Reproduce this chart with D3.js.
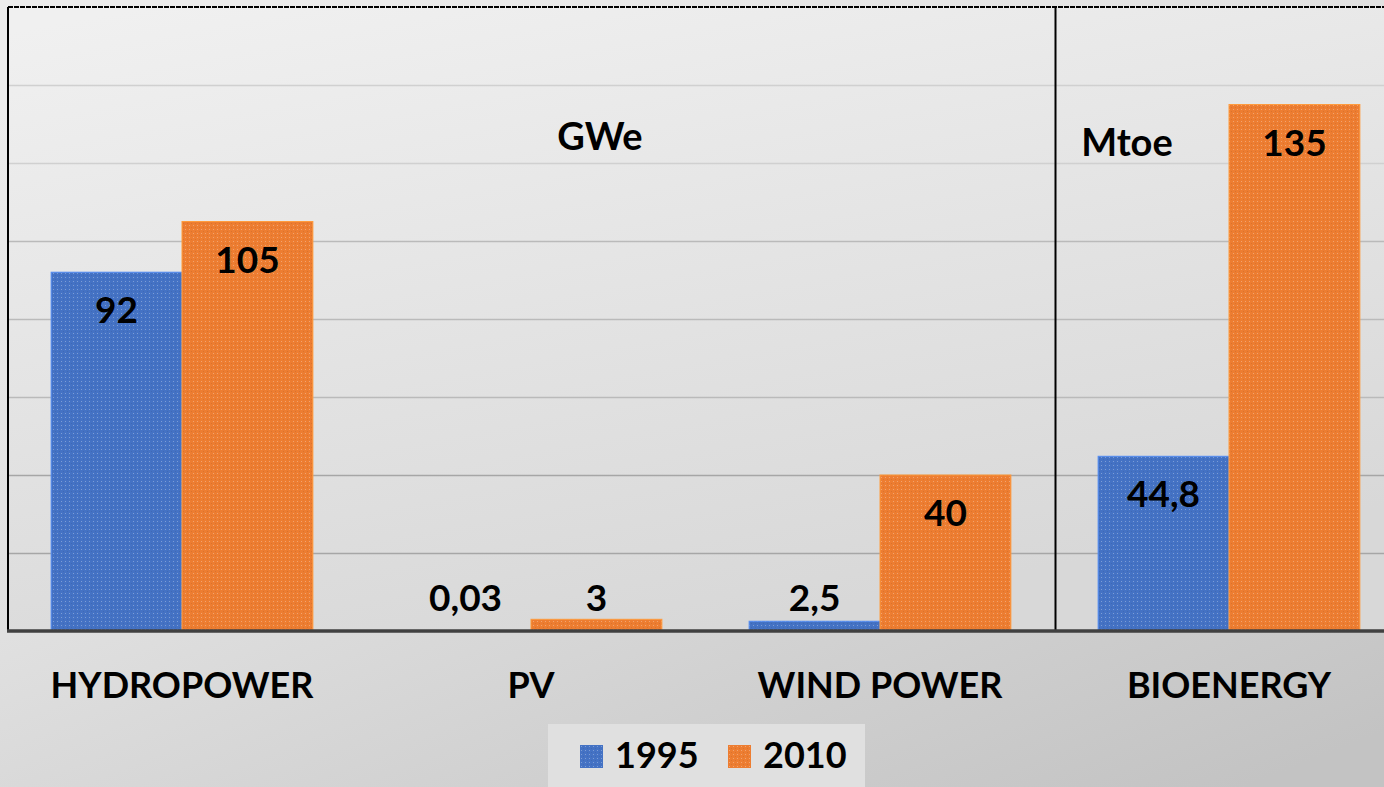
<!DOCTYPE html>
<html>
<head>
<meta charset="utf-8">
<script src="https://d3js.org/d3.v7.min.js"></script>
<style>
  body { margin: 0; overflow: hidden; }
  text { font-family: Lato, "Open Sans", sans-serif; font-weight: bold; }
</style>
</head>
<body>
<script>
var categories = ["HYDROPOWER", "PV", "WIND POWER", "BIOENERGY"];
var series = ["1995", "2010"];
var values1995 = [92, 0.03, 2.5, 44.8];
var values2010 = [105, 3, 40, 135];
var labels1995 = ["92", "0,03", "2,5", "44,8"];
var labels2010 = ["105", "3", "40", "135"];
var yTicks = [0, 20, 40, 60, 80, 100, 120, 140, 160];
var unitLabels = ["GWe", "Mtoe"];
var unitCats = ["PV", "BIOENERGY"];

var W = 1384, H = 787;
var colors = {"1995": "#4472c4", "2010": "#ed7d31"};

var svg = d3.select("body").append("svg").attr("width", W).attr("height", H);
var defs = svg.append("defs");

var bg = defs.append("linearGradient").attr("id", "bg")
    .attr("x1", "0.2").attr("y1", "0").attr("x2", "0.9").attr("y2", "1");
bg.append("stop").attr("offset", "0").attr("stop-color", "#ececec");
bg.append("stop").attr("offset", "0.45").attr("stop-color", "#e0e0e0");
bg.append("stop").attr("offset", "1").attr("stop-color", "#c3c3c3");

var plotBg = defs.append("linearGradient").attr("id", "plotbg")
    .attr("x1", "0.1").attr("y1", "0").attr("x2", "0.5").attr("y2", "1");
plotBg.append("stop").attr("offset", "0").attr("stop-color", "#f0f0f0");
plotBg.append("stop").attr("offset", "1").attr("stop-color", "#d8d8d8");

// dotted texture on bars
series.forEach(function(s) {
  var p = defs.append("pattern").attr("id", "pat" + s)
      .attr("width", 4).attr("height", 4).attr("patternUnits", "userSpaceOnUse");
  p.append("rect").attr("width", 4).attr("height", 4).attr("fill", colors[s]);
  p.append("rect").attr("x", 1).attr("y", 1).attr("width", 1).attr("height", 1)
    .attr("fill", "#ffffff").attr("opacity", 0.3);
  p.append("rect").attr("x", 3).attr("y", 3).attr("width", 1).attr("height", 1)
    .attr("fill", "#000000").attr("opacity", 0.08);
});

svg.append("rect").attr("width", W).attr("height", H).attr("fill", "url(#bg)");

var yTop = 7, base = 631, left = 8;
var x = d3.scaleBand().domain(categories).range([7.5, 1403.5])
    .paddingInner(0.25).paddingOuter(0.125);
var xs = d3.scaleBand().domain(series).range([0, x.bandwidth()]);
var y = d3.scaleLinear().domain([0, 160]).range([base, yTop]);

svg.append("rect").attr("x", left).attr("y", yTop).attr("width", W - left).attr("height", base - yTop)
  .attr("fill", "url(#plotbg)");

// gridlines
svg.append("g").selectAll("line").data(yTicks.slice(1, -1)).join("line")
  .attr("x1", left).attr("x2", W)
  .attr("y1", function(d) { return Math.round(y(d)) + 0.5; })
  .attr("y2", function(d) { return Math.round(y(d)) + 0.5; })
  .attr("stroke", function(d) { return d > 100 ? "#d0d0d0" : (d > 40 ? "#bababa" : "#a6a6a6"); })
  .attr("stroke-width", 1.5);

// bars
var data = [];
categories.forEach(function(c, i) {
  data.push({cat: c, s: "1995", v: values1995[i], lab: labels1995[i]});
  data.push({cat: c, s: "2010", v: values2010[i], lab: labels2010[i]});
});

svg.append("g").selectAll("rect").data(data).join("rect")
  .attr("x", function(d) { return x(d.cat) + xs(d.s); })
  .attr("width", xs.bandwidth())
  .attr("y", function(d) { return y(d.v); })
  .attr("height", function(d) { return base - y(d.v); })
  .attr("fill", function(d) { return "url(#pat" + d.s + ")"; })
  .attr("stroke", function(d) { return d3.color(colors[d.s]).brighter(0.6); })
  .attr("stroke-width", 1);

// value labels
svg.append("g").selectAll("text").data(data).join("text")
  .attr("x", function(d) { return x(d.cat) + xs(d.s) + xs.bandwidth() / 2; })
  .attr("y", function(d) { return Math.min(y(d.v) + 51, base - 20); })
  .attr("text-anchor", "middle")
  .attr("font-size", 37)
  .attr("fill", "#000")
  .text(function(d) { return d.lab; });

// frame lines
svg.append("line").attr("x1", left).attr("x2", W).attr("y1", yTop).attr("y2", yTop)
  .attr("stroke", "#000").attr("stroke-width", 2).attr("stroke-dasharray", "5,1");
svg.append("line").attr("x1", left).attr("x2", left).attr("y1", yTop).attr("y2", base)
  .attr("stroke", "#000").attr("stroke-width", 2);
var sep = x("BIOENERGY") - x.step() * x.paddingInner() / 2 + 1;
svg.append("line").attr("x1", sep).attr("x2", sep).attr("y1", yTop).attr("y2", base)
  .attr("stroke", "#000").attr("stroke-width", 2);

// x axis
var xAxis = svg.append("g").attr("transform", "translate(0," + base + ")")
  .call(d3.axisBottom(x).tickSize(0).tickPadding(41));
xAxis.select(".domain").remove();
svg.append("line").attr("x1", left - 1).attr("x2", W).attr("y1", base).attr("y2", base)
  .attr("stroke", "#404040").attr("stroke-width", 3.5);
xAxis.selectAll("text").attr("font-size", 36).attr("fill", "#000")
  .attr("font-family", "Lato, 'Open Sans', sans-serif").attr("font-weight", "bold");

// unit labels
var unitDx = [69, -102], unitY = [150, 156];
svg.append("g").selectAll("text").data(unitLabels).join("text")
  .attr("x", function(d, i) { return x(unitCats[i]) + x.bandwidth() / 2 + unitDx[i]; })
  .attr("y", function(d, i) { return unitY[i]; })
  .attr("text-anchor", "middle")
  .attr("font-size", 38)
  .attr("fill", "#000")
  .text(function(d) { return d; });

// legend
var lg = svg.append("g").attr("transform", "translate(548,724)");
lg.append("rect").attr("width", 317).attr("height", 70).attr("fill", "#e0e0e0");
var items = lg.selectAll("g").data(series).join("g")
  .attr("transform", function(d, i) { return "translate(" + (32 + i * 148) + ",21)"; });
items.append("rect").attr("width", 23).attr("height", 23)
  .attr("fill", function(d) { return "url(#pat" + d + ")"; });
items.append("text").attr("x", 35).attr("y", 23).attr("font-size", 36).attr("fill", "#000")
  .text(function(d) { return d; });
</script>
</body>
</html>
